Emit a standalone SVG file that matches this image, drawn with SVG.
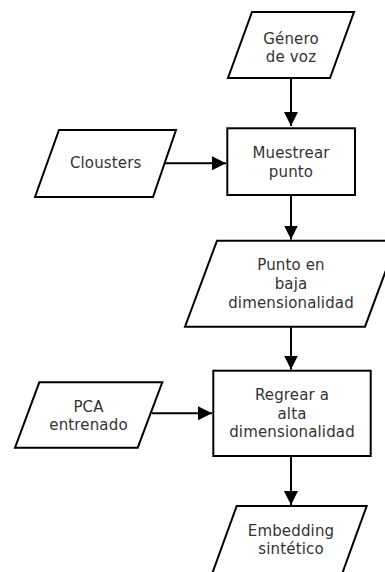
<svg xmlns="http://www.w3.org/2000/svg" width="385" height="572" viewBox="0 0 385 572">
  <style>
    .shape { fill: #ffffff; stroke: #000000; stroke-width: 2; stroke-linejoin: miter; }
    .label { font-family: "DejaVu Sans", "Liberation Sans", sans-serif; font-size: 15px; letter-spacing: 0.15px; fill: #333333; text-anchor: middle; }
    .edge { fill: none; stroke: #000000; stroke-width: 2; }
  </style>
  <defs>
    <marker id="arrow" viewBox="0 0 14 14" refX="14" refY="7" markerWidth="14" markerHeight="14" markerUnits="userSpaceOnUse" orient="auto">
      <path d="M0,0 L14,7 L0,14 Z" fill="#000000"/>
    </marker>
  </defs>
  <rect width="385" height="572" fill="#ffffff"/>

  <g id="connectors">
    <path class="edge" d="M291,78 V126" marker-end="url(#arrow)"/>
    <path class="edge" d="M165,163.3 H226" marker-end="url(#arrow)"/>
    <path class="edge" d="M291,195 V239.5" marker-end="url(#arrow)"/>
    <path class="edge" d="M291,327 V369.5" marker-end="url(#arrow)"/>
    <path class="edge" d="M152,413.3 H212" marker-end="url(#arrow)"/>
    <path class="edge" d="M291,456 V505" marker-end="url(#arrow)"/>
  </g>

  <g id="genero-voz">
    <polygon class="shape" points="252,12 354,12 330,78 228,78"/>
    <text class="label" x="291" y="43.5">Género</text>
    <text class="label" x="291" y="62">de voz</text>
  </g>

  <g id="clousters">
    <polygon class="shape" points="59,130 176,130 153,197 35,197"/>
    <text class="label" x="105.7" y="168.3">Clousters</text>
  </g>

  <g id="muestrear-punto">
    <rect class="shape" x="227.3" y="128.3" width="127.7" height="66.7"/>
    <text class="label" x="291" y="158.3">Muestrear</text>
    <text class="label" x="291" y="176.7">punto</text>
  </g>

  <g id="punto-baja">
    <polygon class="shape" points="217,240.7 397,240.7 365,326.7 185,326.7"/>
    <text class="label" x="291" y="270">Punto en</text>
    <text class="label" x="291" y="289">baja</text>
    <text class="label" x="291" y="308">dimensionalidad</text>
  </g>

  <g id="pca-entrenado">
    <polygon class="shape" points="39.3,382.3 162.3,382.3 137.7,447.7 15,447.7"/>
    <text class="label" x="88.5" y="411.7">PCA</text>
    <text class="label" x="88.5" y="430">entrenado</text>
  </g>

  <g id="regrear-alta">
    <rect class="shape" x="213.3" y="370.7" width="157.4" height="85.3"/>
    <text class="label" x="292" y="400">Regrear a</text>
    <text class="label" x="292" y="418.5">alta</text>
    <text class="label" x="292" y="437">dimensionalidad</text>
  </g>

  <!-- runs past the lower edge of the canvas -->
  <g id="embedding-sintetico">
    <polygon class="shape" points="236.7,506 366.7,506 341.3,576 211.3,576"/>
    <text class="label" x="291" y="535.7">Embedding</text>
    <text class="label" x="291" y="554">sintético</text>
  </g>
</svg>
